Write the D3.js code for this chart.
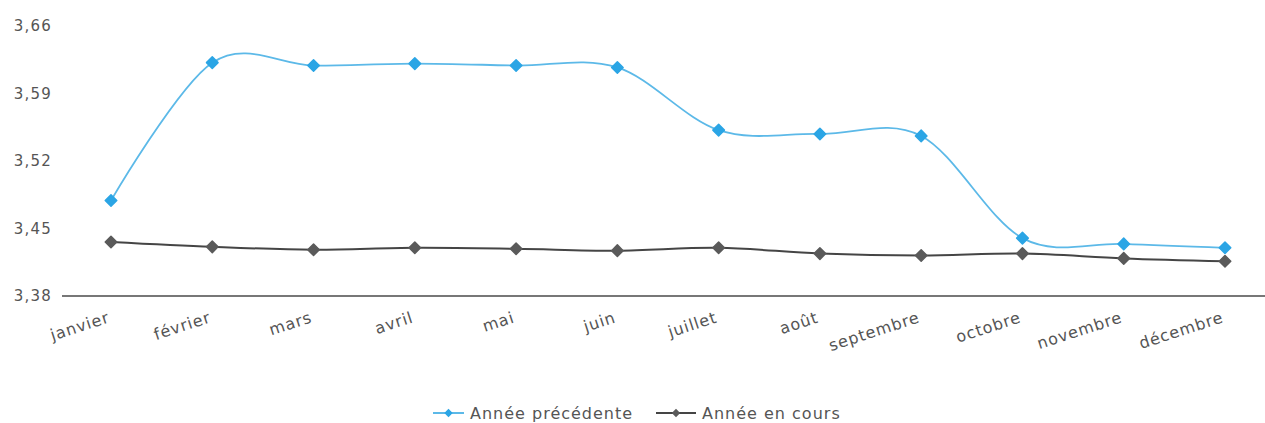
<!DOCTYPE html>
<html>
<head>
<meta charset="utf-8">
<script src="https://cdn.jsdelivr.net/npm/d3@7/dist/d3.min.js"></script>
<style>
  html, body { margin: 0; padding: 0; background: #fff; }
  svg { display: block; }
  text { font-family: "DejaVu Sans", Verdana, sans-serif; fill: #555; }
</style>
</head>
<body>
<svg id="chart" width="1265" height="423"></svg>
<script>
// Monthly series
const months = ["janvier", "février", "mars", "avril", "mai", "juin",
                "juillet", "août", "septembre", "octobre", "novembre", "décembre"];
const previousYear = [3.479, 3.622, 3.619, 3.621, 3.619, 3.617,
                      3.552, 3.548, 3.546, 3.440, 3.434, 3.430];
const currentYear  = [3.436, 3.431, 3.428, 3.430, 3.429, 3.427,
                      3.430, 3.424, 3.422, 3.424, 3.419, 3.416];
const yTicks = [3.38, 3.45, 3.52, 3.59, 3.66];
const seriesNames = ["Année précédente", "Année en cours"];

const series = [
  { name: seriesNames[0], values: previousYear, line: "#5cb9e8", mark: "#2ba5e5", width: 1.8 },
  { name: seriesNames[1], values: currentYear,  line: "#454545", mark: "#5a5a5a", width: 2 }
];

const W = 1265, H = 423;
const plot = { left: 62, right: 1265, top: 26, bottom: 296 };

const svg = d3.select("#chart");

const x = d3.scalePoint().domain(months).range([111, 1225]);
const y = d3.scaleLinear().domain([3.38, 3.66]).range([plot.bottom, plot.top]);

const fr = d3.formatLocale({ decimal: ",", thousands: " ", grouping: [3], currency: ["", " €"] });
const fmt = fr.format(".2f");

// Y axis labels
const yAxis = svg.append("g")
  .attr("transform", `translate(${plot.left},0)`)
  .call(d3.axisLeft(y).tickValues(yTicks).tickFormat(fmt).tickSize(0).tickPadding(10));
yAxis.select(".domain").remove();
yAxis.selectAll("text")
  .style("font-family", "'DejaVu Sans', Verdana, sans-serif")
  .style("font-size", "15px")
  .style("letter-spacing", "1.2px")
  .attr("fill", "#555");

// Baseline
svg.append("line")
  .attr("x1", plot.left).attr("x2", plot.right)
  .attr("y1", y(3.38)).attr("y2", y(3.38))
  .attr("stroke", "#4a4a4a").attr("stroke-width", 1.6);

// X axis labels (rotated)
const xAxis = svg.append("g")
  .attr("transform", `translate(0,${plot.bottom})`)
  .call(d3.axisBottom(x).tickSize(0).tickPadding(0));
xAxis.select(".domain").remove();
xAxis.selectAll("text")
  .style("font-family", "'DejaVu Sans', Verdana, sans-serif")
  .style("font-size", "16px")
  .style("letter-spacing", "0.9px")
  .attr("fill", "#555")
  .attr("text-anchor", "end")
  .attr("dy", "0")
  .attr("y", 0)
  .attr("transform", "translate(-1,26) rotate(-18)");

// Lines
const line = d3.line()
  .x((d, i) => x(months[i]))
  .y(d => y(d))
  .curve(d3.curveCardinal.tension(0));

const diamond = d3.symbol().type(d3.symbolDiamond2).size(85);

series.forEach(s => {
  svg.append("path")
    .datum(s.values)
    .attr("d", line)
    .attr("fill", "none")
    .attr("stroke", s.line)
    .attr("stroke-width", s.width);
});

series.forEach(s => {
  svg.append("g").selectAll("path")
    .data(s.values)
    .join("path")
    .attr("d", diamond)
    .attr("transform", (d, i) => `translate(${x(months[i])},${y(d)})`)
    .attr("fill", s.mark)
    .attr("stroke", s.mark)
    .attr("stroke-width", 1.5)
    .attr("stroke-linejoin", "round");
});

// Legend
const legendItems = [
  { s: series[0], lx: 433, len: 31, tx: 470 },
  { s: series[1], lx: 656, len: 40, tx: 702 }
];
const ly = 413;
legendItems.forEach(it => {
  const g = svg.append("g");
  g.append("line")
    .attr("x1", it.lx).attr("x2", it.lx + it.len)
    .attr("y1", ly).attr("y2", ly)
    .attr("stroke", it.s.line).attr("stroke-width", 2);
  g.append("path")
    .attr("d", d3.symbol().type(d3.symbolDiamond2).size(45))
    .attr("transform", `translate(${it.lx + it.len / 2},${ly})`)
    .attr("fill", it.s.mark);
  g.append("text")
    .attr("x", it.tx).attr("y", ly)
    .attr("dy", "0.36em")
    .style("font-size", "16px")
    .style("letter-spacing", "1px")
    .attr("fill", "#444")
    .text(it.s.name);
});
</script>
</body>
</html>
